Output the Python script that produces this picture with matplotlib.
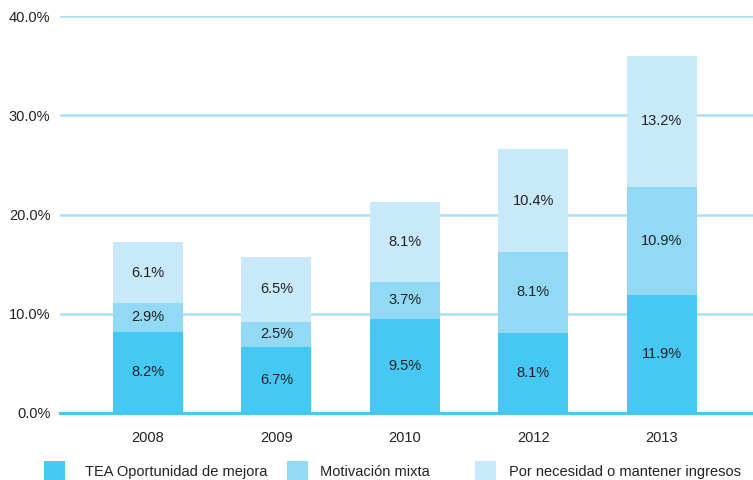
import matplotlib
matplotlib.use("Agg")
import matplotlib.pyplot as plt
from matplotlib.patches import Rectangle
import numpy as np

years = ["2008", "2009", "2010", "2012", "2013"]
oportunidad = [8.2, 6.7, 9.5, 8.1, 11.9]
mixta = [2.9, 2.5, 3.7, 8.1, 10.9]
necesidad = [6.1, 6.5, 8.1, 10.4, 13.2]
series_names = ["TEA Oportunidad de mejora", "Motivación mixta",
                "Por necesidad o mantener ingresos"]
yticks = [0, 10, 20, 30, 40]

colors = ["#45C8F4", "#92D9F6", "#C8E9FA"]
text_color = "#222222"
plt.rcParams['font.family'] = ['Liberation Sans', 'DejaVu Sans']
fs = 10.5

fig = plt.figure(figsize=(7.53, 4.8), dpi=100)
ax = fig.add_axes([60/753, 67/480, 1 - 60/753, (413-16)/480])

x = np.arange(len(years))
w = 0.545
bottom = np.zeros(len(years))
for vals, c in zip([oportunidad, mixta, necesidad], colors):
    vals = np.array(vals)
    ax.bar(x, vals, w, bottom=bottom, color=c, zorder=3, linewidth=0)
    for xi, b, v in zip(x, bottom, vals):
        ax.text(xi, b + v/2, f"{v:.1f}%", ha="center", va="center",
                fontsize=fs, color=text_color, zorder=4)
    bottom = bottom + vals

ax.set_xlim(-0.685, 4.71)
ax.set_ylim(0, 40)
ax.set_yticks(yticks)
ax.set_yticklabels([f"{t:.1f}%" for t in yticks], fontsize=fs, color=text_color)
ax.set_xticks(x)
ax.set_xticklabels(years, fontsize=fs, color=text_color)
ax.tick_params(axis="both", length=0)
ax.tick_params(axis="y", pad=7)
ax.tick_params(axis="x", pad=13)
for s in ax.spines.values():
    s.set_visible(False)
for t in yticks[1:]:
    ax.axhline(t, color="#A8DEF6", linewidth=1.8, zorder=1)
ax.axhline(0, color="#45C8F4", linewidth=2.2, zorder=5, clip_on=False)

# legend
items = [(44, 85), (287, 320), (475, 509)]
for (sx, tx), c, name in zip(items, colors, series_names):
    fig.add_artist(Rectangle((sx/753, 0), 21/753, 19/480,
                             transform=fig.transFigure, color=c, linewidth=0))
    fig.text(tx/753, 1 - 472/480, name, ha="left", va="center",
             fontsize=fs, color=text_color)

fig.savefig("out.png", dpi=100)
